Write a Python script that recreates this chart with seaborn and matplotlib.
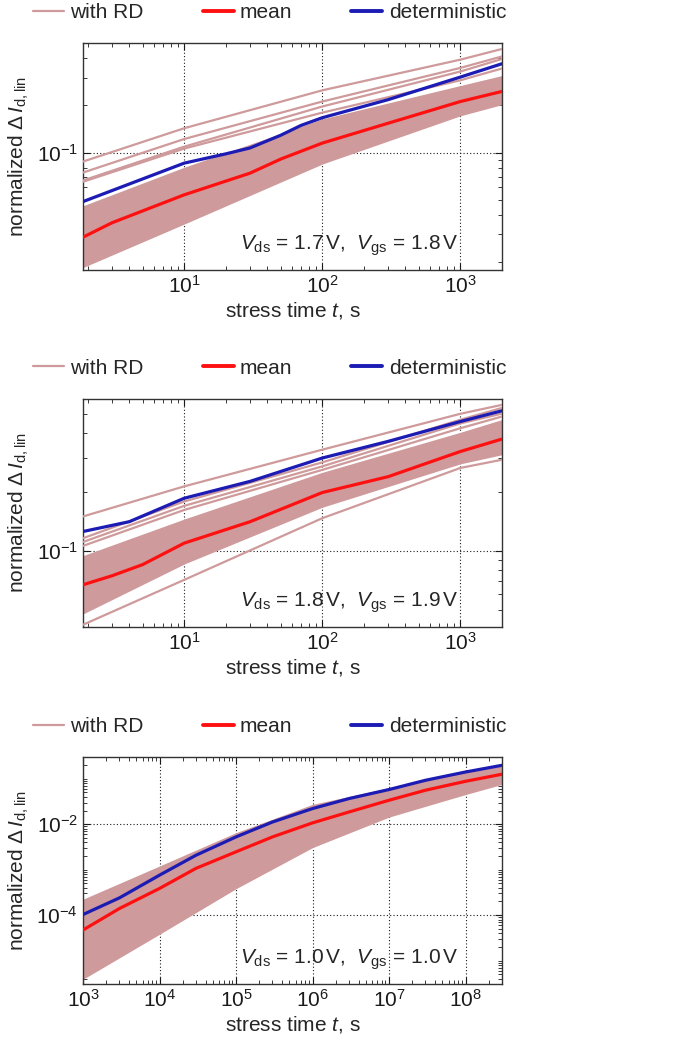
import numpy as np
import pandas as pd
import seaborn as sns
import matplotlib
matplotlib.use("Agg")
import matplotlib.pyplot as plt
from matplotlib.lines import Line2D
from matplotlib.ticker import FixedLocator, LogLocator, NullFormatter

# ---------------- data ----------------
# Panel 1 : Vds = 1.7 V, Vgs = 1.8 V
p1_t_mean = [1.85, 3, 10, 30, 50, 100, 300, 1000, 2000]
p1_mean = [0.0287, 0.0355, 0.0536, 0.0738, 0.0908, 0.1149, 0.154, 0.212, 0.246]
p1_t_det = [1.85, 10, 20, 30, 50, 70, 100, 300, 1000, 2000]
p1_det = [0.0485, 0.0855, 0.098, 0.107, 0.129, 0.149, 0.167, 0.218, 0.304, 0.37]
p1_t_rd = [1.85, 10, 100, 1000, 2000]
p1_band_hi = [0.045, 0.0794, 0.162, 0.265, 0.307]
p1_band_lo = [0.0186, 0.0353, 0.0855, 0.174, 0.205]
p1_rd_outliers = [
    [0.0875, 0.143, 0.25, 0.393, 0.46],
    [0.0744, 0.122, 0.212, 0.348, 0.412],
    [0.0662, 0.109, 0.197, 0.33, 0.397],
    [0.065, 0.106, 0.18, 0.29, 0.345],
]

# Panel 2 : Vds = 1.8 V, Vgs = 1.9 V
p2_t_mean = [1.85, 3, 5, 10, 30, 100, 300, 1000, 2000]
p2_mean = [0.067, 0.0745, 0.085, 0.1095, 0.141, 0.199, 0.240, 0.323, 0.374]
p2_t_det = [1.85, 4, 10, 30, 100, 300, 1000, 2000]
p2_det = [0.1256, 0.141, 0.186, 0.227, 0.299, 0.364, 0.46, 0.522]
p2_t_rd = [1.85, 10, 100, 1000, 2000]
p2_band_hi = [0.0935, 0.144, 0.25, 0.401, 0.466]
p2_band_lo = [0.048, 0.0865, 0.169, 0.282, 0.314]
p2_rd_outliers = [
    [0.15, 0.214, 0.33, 0.504, 0.56],
    [0.116, 0.179, 0.284, 0.47, 0.54],
    [0.111, 0.170, 0.271, 0.45, 0.505],
    [0.106, 0.162, 0.26, 0.425, 0.488],
    [0.0418, 0.071, 0.147, 0.266, 0.293],
]

# Panel 3 : Vds = 1.0 V, Vgs = 1.0 V
p3_t = [1e3, 3e3, 1e4, 3e4, 1e5, 3e5, 1e6, 3e6, 1e7, 3e7, 1e8, 3e8]
p3_mean = [4.7e-5, 1.4e-4, 3.86e-4, 1.07e-3, 2.47e-3, 5.26e-3, 0.0107, 0.0186,
           0.0337, 0.056, 0.088, 0.126]
p3_det = [1.03e-4, 2.4e-4, 7.57e-4, 2.08e-3, 5.26e-3, 0.0112, 0.0221, 0.0367,
          0.058, 0.0927, 0.141, 0.198]
p3_t_rd = [1e3, 1e4, 1e5, 1e6, 1e7, 1e8, 3e8]
p3_band_hi = [2.14e-4, 1.15e-3, 6.24e-3, 0.0262, 0.0609, 0.141, 0.182]
p3_band_lo = [4.07e-6, 3.98e-5, 4.0e-4, 3.2e-3, 0.015, 0.047, 0.0785]
p3_rd_outliers = []

annotations = [r"$V_{\mathrm{ds}}$ = 1.7$\,$V,  $V_{\mathrm{gs}}$ = 1.8$\,$V",
               r"$V_{\mathrm{ds}}$ = 1.8$\,$V,  $V_{\mathrm{gs}}$ = 1.9$\,$V",
               r"$V_{\mathrm{ds}}$ = 1.0$\,$V,  $V_{\mathrm{gs}}$ = 1.0$\,$V"]
legend_labels = ["with RD", "mean", "deterministic"]
xlabel = r"stress time $t$, s"
ylabel = r"normalized $\Delta\,I_{\mathrm{d,lin}}$"

# ---------------- style ----------------
sns.set_theme(style="ticks")
plt.rcParams["font.family"] = ["Liberation Sans", "DejaVu Sans"]
plt.rcParams["mathtext.fontset"] = "custom"
plt.rcParams["mathtext.rm"] = "Liberation Sans"
plt.rcParams["mathtext.it"] = "Liberation Sans:italic"
plt.rcParams["mathtext.bf"] = "Liberation Sans:bold"

C_RD = "#cf9a9b"
C_MEAN = "#ff1010"
C_DET = "#1c1cb4"

fig = plt.figure(figsize=(6.84, 10.55), dpi=100)
W, H = 684, 1055
boxes = [(83, 43.3, 502, 270), (83, 399, 502, 627), (83, 757.3, 502, 984)]
axes = [fig.add_axes([x0 / W, 1 - y1 / H, (x1 - x0) / W, (y1 - y0) / H])
        for (x0, y0, x1, y1) in boxes]

panels = [
    dict(tm=p1_t_mean, m=p1_mean, td=p1_t_det, d=p1_det, tr=p1_t_rd,
         hi=p1_band_hi, lo=p1_band_lo, out=p1_rd_outliers,
         xlim=(1.85, 2000), ylim=(0.0177, 0.5)),
    dict(tm=p2_t_mean, m=p2_mean, td=p2_t_det, d=p2_det, tr=p2_t_rd,
         hi=p2_band_hi, lo=p2_band_lo, out=p2_rd_outliers,
         xlim=(1.85, 2000), ylim=(0.0407, 0.6)),
    dict(tm=p3_t, m=p3_mean, td=p3_t, d=p3_det, tr=p3_t_rd,
         hi=p3_band_hi, lo=p3_band_lo, out=p3_rd_outliers,
         xlim=(1e3, 3e8), ylim=(3.05e-6, 0.297)),
]

for i, (ax, p) in enumerate(zip(axes, panels)):
    ax.set_xscale("log")
    ax.set_yscale("log")
    # RD ensemble: dense band + individual visible curves
    ax.fill_between(p["tr"], p["lo"], p["hi"], color=C_RD, lw=1.2,
                    edgecolor=C_RD, zorder=2)
    if p["out"]:
        rows = []
        for k, curve in enumerate(p["out"]):
            for t, v in zip(p["tr"], curve):
                rows.append({"t": t, "v": v, "run": k})
        df = pd.DataFrame(rows)
        sns.lineplot(data=df, x="t", y="v", units="run", estimator=None,
                     color=C_RD, lw=1.6, ax=ax, zorder=3, legend=False)
    sns.lineplot(x=p["tm"], y=p["m"], color=C_MEAN, lw=2.3, ax=ax, zorder=5)
    sns.lineplot(x=p["td"], y=p["d"], color=C_DET, lw=2.3, ax=ax, zorder=6)

    ax.set_xlim(*p["xlim"])
    ax.set_ylim(*p["ylim"])
    if i == 2:
        ax.yaxis.set_major_locator(FixedLocator([1e-6, 1e-4, 1e-2, 1]))
        ax.yaxis.set_minor_locator(LogLocator(base=10, subs=np.arange(1, 10), numticks=100))
    ax.xaxis.set_minor_formatter(NullFormatter())
    ax.yaxis.set_minor_formatter(NullFormatter())
    ax.grid(True, which="major", ls=(0, (1, 2)), color="k", lw=0.8)
    ax.tick_params(which="both", direction="in", top=True, right=True,
                   labelsize=15, colors="k")
    ax.tick_params(which="major", length=5, width=0.8)
    ax.tick_params(which="minor", length=3, width=0.6)
    for s in ax.spines.values():
        s.set_color("#333333")
        s.set_linewidth(1.0)
    ax.set_xlabel(xlabel, fontsize=15, labelpad=2)
    ax.set_ylabel(ylabel, fontsize=15, labelpad=4)
    ax.text(0.636, 0.105, annotations[i], transform=ax.transAxes,
            ha="center", va="center", fontsize=15, zorder=10)

    handles = [Line2D([], [], color=C_RD, lw=1.6),
               Line2D([], [], color=C_MEAN, lw=2.8),
               Line2D([], [], color=C_DET, lw=2.8)]
    y0_px, y1_px = boxes[i][1], boxes[i][3]
    h_px = y1_px - y0_px
    yc = (y1_px - (y0_px - 31)) / h_px
    ax.legend(handles, legend_labels, loc="center", ncol=3, mode="expand",
              bbox_to_anchor=(-50 / 419, yc - 0.05, 473 / 419, 0.1),
              frameon=False, fontsize=15, handlelength=1.5, handletextpad=0.3,
              borderpad=0, borderaxespad=0)

fig.savefig("out.png", dpi=100)
